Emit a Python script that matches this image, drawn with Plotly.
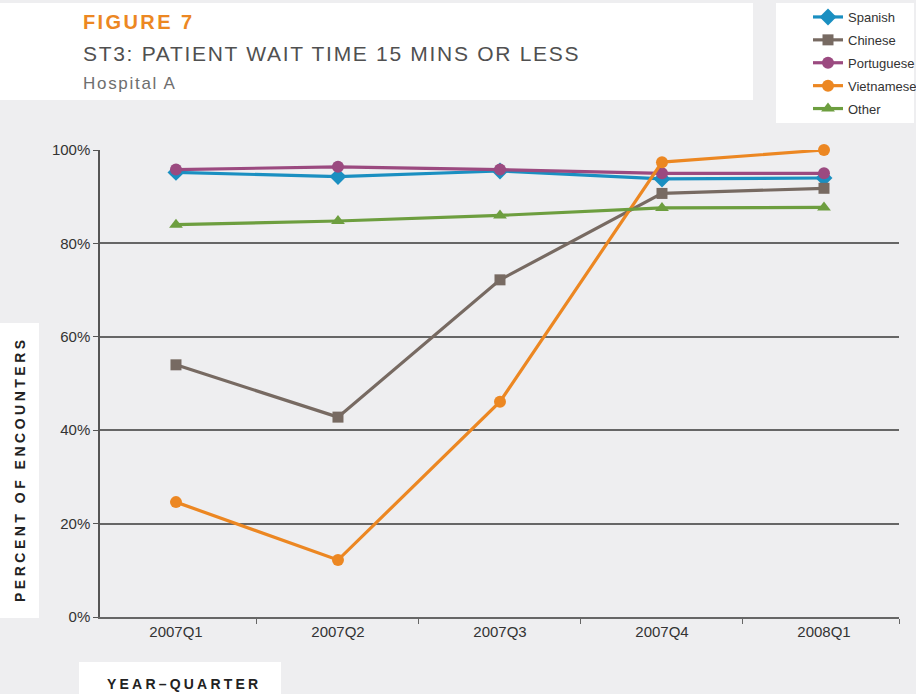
import plotly.graph_objects as go

quarters = ["2007Q1", "2007Q2", "2007Q3", "2007Q4", "2008Q1"]
spanish = [95.2, 94.3, 95.5, 93.8, 94.0]
chinese = [54.0, 42.8, 72.2, 90.7, 91.8]
portuguese = [95.8, 96.4, 95.8, 95.0, 95.0]
vietnamese = [24.6, 12.2, 46.1, 97.4, 100.0]
other = [84.0, 84.8, 86.0, 87.6, 87.7]

series = [
    ("Spanish", spanish, "#1a8fc1", "diamond", 13),
    ("Chinese", chinese, "#776a62", "square", 11),
    ("Portuguese", portuguese, "#9b4a80", "circle", 12),
    ("Vietnamese", vietnamese, "#ec8722", "circle", 12),
    ("Other", other, "#6d9e3f", "triangle-up", 12),
]

W, H = 916, 694
L, R, T, B = 100, 17, 150, 77
pw, ph = W - L - R, H - T - B

def px(x):
    return (x - L) / pw

def py(y):
    return (H - B - y) / ph

fig = go.Figure()
for i, (name, vals, col, sym, sz) in enumerate(series):
    fig.add_trace(go.Scatter(
        x=list(range(len(quarters))), y=vals, name=name, mode="lines+markers",
        line=dict(color=col, width=3.2),
        marker=dict(symbol=sym, size=sz, color=col),
        legendgroup=name, cliponaxis=False,
    ))

bg = "#eeeef0"
shapes = []
for (x0, y0, x1, y1) in [(0, 3, 753, 100), (776, 3, 914, 123), (0, 323, 39, 618), (79, 662, 281, 700)]:
    shapes.append(dict(type="rect", xref="paper", yref="paper",
                       x0=px(x0), x1=px(x1), y0=py(y1), y1=py(y0),
                       fillcolor="white", line=dict(width=0), layer="below"))

FF = "Liberation Sans, Arial"
annotations = [
    dict(text="<span style='letter-spacing:2.4px'><b>FIGURE 7</b></span>", x=px(81), y=py(22), xanchor="left", yanchor="middle",
         font=dict(family=FF, size=20, color="#ec8722")),
    dict(text="<span style='letter-spacing:1.7px'>ST3: PATIENT WAIT TIME 15 MINS OR LESS</span>", x=px(81), y=py(53), xanchor="left", yanchor="middle",
         font=dict(family=FF, size=21, color="#505050")),
    dict(text="<span style='letter-spacing:1.7px'>Hospital A</span>", x=px(81), y=py(83), xanchor="left", yanchor="middle",
         font=dict(family=FF, size=17, color="#6e6e6e")),
    dict(text="<span style='letter-spacing:3.5px'><b>PERCENT OF ENCOUNTERS</b></span>", x=px(20), y=py(469), xanchor="center", yanchor="middle",
         textangle=-90, font=dict(family=FF, size=14, color="#222")),
    dict(text="<span style='letter-spacing:3.2px'><b>YEAR–QUARTER</b></span>", x=px(105), y=py(684), xanchor="left", yanchor="middle",
         font=dict(family=FF, size=14, color="#222")),
]
for a in annotations:
    a.update(xref="paper", yref="paper", showarrow=False)

fig.update_layout(
    width=W, height=H,
    margin=dict(l=L, r=R, t=T, b=B, autoexpand=False),
    paper_bgcolor=bg, plot_bgcolor=bg,
    font=dict(family=FF, color="#333"),
    shapes=shapes, annotations=annotations,
    showlegend=True,
    legend=dict(x=px(808), y=py(2), xanchor="left", yanchor="top",
                bgcolor="rgba(0,0,0,0)", font=dict(size=13, color="#333"),
                tracegroupgap=3, itemwidth=30),
    xaxis=dict(tickvals=list(range(len(quarters))), ticktext=quarters,
               showgrid=False, ticks="", showline=True, linecolor="#666", linewidth=1.5,
               tickfont=dict(size=15, color="#333"),
               minor=dict(tickvals=[0.5, 1.5, 2.5, 3.5, 4.463], ticks="outside",
                          ticklen=5, tickcolor="#666", tickwidth=1, showgrid=False),
               range=[-0.469, 4.463], zeroline=False),
    yaxis=dict(range=[0, 100], tickvals=[0, 20, 40, 60, 80, 100],
               ticktext=["0%", "20%", "40%", "60%", "80%", "100%"],
               showgrid=True, gridcolor="#666", gridwidth=1.6,
               showline=True, linecolor="#555", linewidth=1.5,
               ticks="outside", ticklen=5, tickcolor="#555",
               tickfont=dict(size=15, color="#333"), zeroline=False),
)

fig.write_html("out.html", config={"displayModeBar": False},
               post_script="document.body.style.margin='0';")
